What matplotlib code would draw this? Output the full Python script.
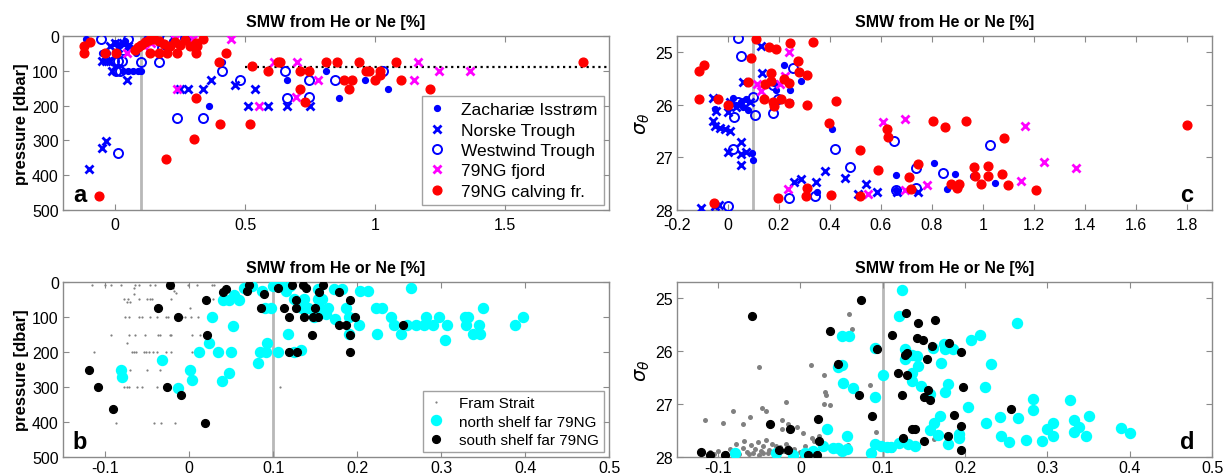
import numpy as np
import matplotlib
matplotlib.use("Agg")
import matplotlib.pyplot as plt

plt.rcParams["font.family"] = ["Liberation Sans", "DejaVu Sans"]

# ---- panel a: SMW vs pressure (x, dbar) ----
zach_a = [(-0.11, 8), (-0.05, 50), (-0.03, 50), (0.0, 20), (0.02, 25), (0.04, 15), (0.06, 35),
          (0.08, 50), (0.03, 100), (0.05, 100), (0.07, 100), (0.09, 100), (0.10, 100), (0.12, 8),
          (0.14, 10), (0.17, 20), (0.19, 30), (0.22, 15), (0.25, 25), (0.28, 10), (0.36, 200),
          (0.41, 75), (0.66, 127), (0.81, 100), (0.86, 178), (0.96, 127), (1.05, 152)]
norske_a = [(-0.10, 383), (-0.05, 322), (-0.035, 302), (-0.05, 72), (-0.035, 72), (-0.02, 72),
            (-0.01, 100), (-0.02, 30), (0.0, 20), (0.01, 35), (0.03, 20), (0.05, 30), (0.045, 126),
            (0.13, 10), (0.25, 152), (0.28, 152), (0.34, 152), (0.37, 126), (0.46, 142), (0.54, 152),
            (0.51, 200), (0.59, 200), (0.66, 200), (0.75, 200)]
westwind_a = [(-0.055, 8), (0.01, 335), (0.005, 100), (-0.005, 72), (0.01, 72), (0.025, 72),
              (0.02, 100), (0.05, 10), (0.10, 75), (0.17, 75), (0.20, 5), (0.27, 5), (0.237, 237),
              (0.34, 237), (0.41, 100), (0.48, 126), (0.655, 100), (0.66, 178), (0.745, 126),
              (0.745, 176), (0.845, 126), (1.03, 100), (0.18, 35), (0.03, 40)]
fjord_a = [(0.045, 50), (0.11, 28), (0.14, 20), (0.23, 8), (0.30, 8), (0.24, 152), (0.445, 10),
           (0.555, 200), (0.61, 75), (0.70, 75), (0.78, 127), (0.695, 176), (1.15, 127),
           (1.165, 75), (1.245, 100), (1.365, 100)]
calving_a = [(-0.12, 29), (-0.12, 50), (-0.095, 18), (-0.04, 50), (0.005, 50), (-0.06, 461),
             (0.075, 40), (0.09, 32), (0.10, 25), (0.115, 18), (0.13, 12), (0.15, 10), (0.17, 15),
             (0.19, 22), (0.21, 28), (0.23, 18), (0.25, 25), (0.27, 12), (0.29, 30), (0.31, 20),
             (0.34, 8), (0.135, 50), (0.17, 50), (0.20, 50), (0.24, 50), (0.31, 50), (0.315, 30),
             (0.31, 177), (0.305, 297), (0.195, 354), (0.40, 75), (0.425, 50), (0.405, 252),
             (0.52, 252), (0.525, 87), (0.59, 100), (0.625, 75), (0.635, 75), (0.71, 100),
             (0.745, 100), (0.71, 151), (0.73, 190), (0.81, 75), (0.855, 75), (0.88, 126),
             (0.91, 126), (0.90, 151), (0.94, 75), (0.965, 100), (0.975, 100), (1.0, 126),
             (1.02, 100), (1.02, 112), (1.08, 75), (1.10, 126), (1.21, 151), (1.80, 75)]

# ---- panel c: SMW vs sigma_theta ----
zach_c = [(-0.05, 26.08), (0.0, 26.05), (0.02, 25.88), (0.03, 26.0), (0.05, 25.95), (0.06, 26.05),
          (0.07, 25.9), (0.08, 26.1), (0.094, 26.92), (0.10, 27.05), (0.18, 25.6), (0.19, 25.72),
          (0.22, 25.25), (0.245, 25.72), (0.285, 25.55), (0.245, 25.95), (0.35, 27.66), (0.41, 26.47),
          (0.66, 27.33), (0.66, 27.62), (0.81, 27.1), (0.86, 27.6), (0.89, 27.32), (0.96, 27.36),
          (1.05, 27.48)]
norske_c = [(-0.105, 27.97), (-0.05, 27.92), (-0.035, 27.9), (-0.06, 25.88), (-0.045, 26.12),
            (-0.06, 26.32), (-0.05, 26.4), (-0.03, 26.45), (-0.01, 26.47), (0.01, 26.5), (0.0, 26.15),
            (0.0, 26.9), (0.01, 25.95), (0.03, 26.05), (0.05, 26.72), (0.05, 26.93), (0.05, 27.15),
            (0.07, 26.9), (0.06, 25.58), (0.085, 25.95), (0.13, 24.89), (0.135, 25.4), (0.26, 27.47),
            (0.285, 27.42), (0.345, 27.47), (0.38, 27.26), (0.46, 27.39), (0.51, 27.69), (0.54, 27.51),
            (0.585, 27.66), (0.665, 27.66), (0.745, 27.66)]
westwind_c = [(0.04, 24.74), (0.05, 25.08), (0.10, 25.85), (0.105, 26.2), (0.025, 26.23),
              (0.02, 26.85), (0.0, 27.92), (0.04, 25.95), (0.06, 25.98), (0.175, 25.63),
              (0.175, 26.16), (0.195, 25.89), (0.255, 25.31), (0.24, 27.78), (0.34, 27.73),
              (0.42, 26.84), (0.48, 27.18), (0.65, 26.7), (0.74, 27.21), (0.74, 27.59),
              (0.845, 27.3), (1.03, 26.77), (0.66, 27.62)]
fjord_c = [(0.24, 25.01), (0.115, 25.61), (0.13, 25.74), (0.17, 25.47), (0.205, 25.61),
           (0.225, 25.46), (0.235, 27.6), (0.55, 27.7), (0.61, 26.33), (0.695, 26.27),
           (0.695, 27.62), (0.78, 27.53), (1.165, 26.4), (1.15, 27.45), (1.24, 27.09), (1.365, 27.2)]
calving_c = [(-0.115, 25.89), (-0.115, 25.36), (-0.095, 25.25), (-0.04, 25.89), (-0.055, 27.87),
             (0.0, 26.0), (0.09, 25.11), (0.11, 24.76), (0.08, 25.58), (0.14, 25.89), (0.145, 25.61),
             (0.17, 25.55), (0.168, 25.4), (0.175, 25.96), (0.18, 26.03), (0.16, 24.9), (0.19, 24.95),
             (0.21, 25.89), (0.22, 25.52), (0.24, 25.6), (0.24, 25.98), (0.245, 24.84), (0.275, 25.17),
             (0.28, 25.38), (0.31, 25.44), (0.31, 26.01), (0.335, 24.81), (0.425, 25.93),
             (0.395, 26.35), (0.195, 27.78), (0.31, 27.58), (0.305, 27.73), (0.405, 27.72),
             (0.52, 26.86), (0.52, 27.73), (0.59, 27.24), (0.625, 26.47), (0.63, 26.61),
             (0.71, 27.37), (0.72, 27.6), (0.745, 27.12), (0.805, 26.31), (0.85, 26.43),
             (0.875, 27.5), (0.905, 27.5), (0.90, 27.58), (0.935, 26.31), (0.965, 27.18),
             (0.97, 27.35), (0.995, 27.5), (1.02, 27.17), (1.02, 27.35), (1.075, 27.32),
             (1.085, 26.63), (1.10, 27.53), (1.21, 27.62), (1.80, 26.39)]

# ---- panel b: shelf stations vs pressure ----
fram_b = [(-0.115, 8), (-0.100, 8), (-0.093, 8), (-0.081, 8), (-0.064, 8), (-0.060, 8), (-0.046, 8),
          (-0.041, 8), (-0.001, 8), (0.009, 8), (0.027, 8), (0.030, 8), (-0.066, 18), (-0.019, 18),
          (-0.018, 27), (-0.016, 30), (-0.066, 34), (-0.078, 48), (-0.073, 48), (-0.060, 48),
          (-0.050, 48), (-0.047, 48), (-0.044, 48), (-0.021, 48), (0.029, 48), (-0.074, 58),
          (-0.070, 58), (0.001, 74), (-0.076, 99), (-0.072, 99), (-0.060, 99), (-0.056, 99),
          (-0.046, 99), (-0.038, 99), (-0.027, 99), (-0.025, 99), (-0.008, 99), (-0.005, 99),
          (0.002, 99), (0.011, 99), (0.028, 99), (-0.093, 150), (-0.072, 150), (-0.064, 150),
          (-0.052, 150), (-0.037, 150), (-0.035, 150), (-0.023, 150), (-0.021, 150), (0.003, 150),
          (0.013, 150), (0.021, 150), (-0.074, 174), (-0.113, 201), (-0.068, 201), (-0.065, 201),
          (-0.063, 201), (-0.054, 201), (-0.051, 201), (-0.048, 201), (-0.043, 201), (-0.038, 201),
          (-0.027, 201), (-0.021, 201), (0.003, 201), (-0.070, 250), (-0.050, 250), (-0.035, 250),
          (-0.078, 301), (-0.074, 301), (-0.072, 301), (-0.062, 301), (-0.056, 301), (-0.038, 301),
          (0.108, 301), (-0.087, 403), (-0.042, 403), (-0.033, 403), (-0.017, 403)]
north_b = [(0.075, 10), (0.065, 18), (0.087, 26), (0.04, 50), (0.048, 50), (0.06, 50), (0.054, 36),
           (0.097, 73), (0.09, 73), (0.027, 99), (0.052, 125), (0.024, 174), (0.012, 201),
           (0.035, 201), (0.05, 201), (0.093, 174), (0.085, 201), (0.092, 201), (0.106, 201),
           (0.082, 230), (-0.032, 222), (-0.081, 250), (-0.080, 270), (0.001, 250), (0.004, 279),
           (0.047, 260), (0.039, 282), (-0.013, 304), (0.10, 10), (0.11, 8), (0.115, 25), (0.12, 10),
           (0.125, 49), (0.137, 49), (0.154, 49), (0.135, 73), (0.142, 73), (0.156, 73), (0.166, 73),
           (0.163, 92), (0.149, 100), (0.174, 106), (0.154, 21), (0.173, 19), (0.182, 19),
           (0.187, 73), (0.19, 100), (0.19, 149), (0.118, 149), (0.125, 200), (0.133, 193),
           (0.158, 49), (0.204, 26), (0.213, 26), (0.202, 123), (0.222, 73), (0.23, 73), (0.24, 100),
           (0.244, 123), (0.224, 149), (0.252, 149), (0.264, 16), (0.26, 123), (0.27, 123),
           (0.28, 123), (0.29, 123), (0.282, 100), (0.298, 100), (0.307, 123), (0.305, 167),
           (0.328, 100), (0.332, 100), (0.33, 123), (0.338, 149), (0.346, 149), (0.345, 123),
           (0.35, 75), (0.388, 123), (0.398, 100)]
south_b = [(-0.023, 8), (-0.037, 75), (-0.013, 99), (0.020, 50), (0.021, 150), (-0.119, 250),
           (-0.108, 301), (-0.091, 363), (-0.026, 301), (-0.009, 323), (0.019, 403), (0.041, 28),
           (0.044, 20), (0.071, 8), (0.069, 25), (0.089, 34), (0.086, 75), (0.106, 18), (0.122, 8),
           (0.113, 75), (0.119, 99), (0.127, 50), (0.127, 75), (0.136, 8), (0.139, 18), (0.137, 99),
           (0.147, 99), (0.153, 99), (0.150, 75), (0.155, 28), (0.16, 8), (0.146, 150), (0.119, 200),
           (0.128, 200), (0.178, 28), (0.187, 123), (0.178, 123), (0.192, 50), (0.197, 100),
           (0.192, 150), (0.192, 200), (0.255, 123)]

# ---- panel d: shelf stations vs sigma_theta ----
fram_d = [(-0.116, 27.3), (-0.094, 27.36), (-0.082, 27.14), (-0.07, 27.37), (-0.061, 27.25),
          (-0.042, 27.14), (-0.047, 27.07), (-0.017, 26.97), (-0.022, 27.3), (-0.023, 27.47),
          (-0.015, 27.38), (-0.004, 27.43), (0.003, 27.55), (0.014, 27.64), (0.017, 27.7),
          (0.023, 27.6), (0.029, 26.46), (0.03, 26.78), (0.031, 26.83), (0.029, 27.0), (0.036, 27.02),
          (0.058, 27.78), (0.059, 25.31), (0.063, 25.58), (-0.05, 26.3), (0.013, 26.26),
          (0.085, 26.64), (0.09, 26.86), (0.092, 27.52), (0.093, 27.74), (0.162, 27.66),
          (0.111, 27.87), (-0.11, 27.9), (-0.105, 27.95), (-0.10, 27.88), (-0.085, 27.85),
          (-0.08, 27.98), (-0.075, 27.95), (-0.07, 27.83), (-0.065, 27.9), (-0.06, 27.78),
          (-0.058, 27.92), (-0.055, 27.85), (-0.05, 27.97), (-0.048, 27.88), (-0.045, 27.8),
          (-0.04, 27.93), (-0.038, 27.86), (-0.035, 27.75), (-0.03, 27.9), (-0.028, 27.95),
          (-0.025, 27.82), (-0.02, 27.88), (-0.018, 27.76), (-0.012, 27.93), (-0.008, 27.85),
          (-0.005, 27.97), (0.0, 27.9), (0.005, 27.8), (0.01, 27.95), (-0.09, 27.92), (-0.078, 27.75),
          (-0.068, 27.7), (-0.052, 27.72), (-0.042, 27.68), (-0.03, 27.8), (-0.015, 27.82),
          (0.02, 27.88), (0.025, 27.75), (-0.062, 27.95), (-0.045, 27.92)]
north_d = [(0.123, 24.86), (0.12, 25.35), (0.127, 25.97), (0.127, 26.16), (0.136, 26.07),
           (0.141, 26.1), (0.143, 26.29), (0.136, 26.42), (0.136, 26.57), (0.146, 26.67),
           (0.157, 26.82), (0.161, 25.94), (0.171, 26.23), (0.174, 25.86), (0.176, 25.97),
           (0.185, 25.96), (0.179, 26.62), (0.175, 26.78), (0.17, 27.22), (0.162, 27.35),
           (0.157, 27.5), (0.167, 27.58), (0.179, 27.75), (0.193, 27.57), (0.193, 27.64),
           (0.204, 27.06), (0.207, 25.79), (0.218, 25.7), (0.224, 26.68), (0.226, 27.36),
           (0.231, 26.25), (0.242, 27.25), (0.244, 27.61), (0.253, 27.72), (0.264, 27.26),
           (0.263, 25.47), (0.274, 27.67), (0.283, 26.91), (0.283, 27.11), (0.293, 27.7),
           (0.30, 27.48), (0.307, 27.35), (0.307, 27.61), (0.328, 26.93), (0.332, 27.31),
           (0.332, 27.53), (0.338, 27.43), (0.35, 27.22), (0.347, 27.61), (0.39, 27.45),
           (0.40, 27.55), (-0.079, 27.92), (-0.03, 27.92), (-0.009, 27.97), (0.006, 27.92),
           (0.015, 27.89), (0.027, 27.79), (0.032, 27.47), (0.04, 27.83), (0.046, 27.83),
           (0.051, 27.89), (0.056, 27.85), (0.057, 27.6), (0.05, 26.26), (0.05, 25.71),
           (0.059, 25.71), (0.052, 26.6), (0.064, 26.7), (0.09, 25.94), (0.09, 26.87), (0.09, 27.75),
           (0.086, 27.92), (0.098, 27.79), (0.10, 26.45), (0.105, 27.81), (0.11, 27.81),
           (0.12, 27.74), (0.131, 27.75), (0.139, 27.8), (0.045, 26.31)]
south_d = [(-0.121, 27.9), (-0.11, 27.96), (-0.092, 27.97), (-0.059, 25.35), (-0.037, 27.38),
           (-0.013, 27.47), (-0.026, 27.87), (-0.015, 27.87), (0.009, 27.97), (0.021, 27.28),
           (0.022, 27.7), (0.02, 27.96), (0.036, 25.63), (0.045, 26.24), (0.074, 25.03),
           (0.071, 26.83), (0.087, 27.23), (0.093, 25.96), (0.111, 25.69), (0.119, 26.42),
           (0.123, 26.84), (0.124, 27.64), (0.128, 25.28), (0.129, 26.04), (0.127, 26.08),
           (0.129, 26.45), (0.136, 27.47), (0.139, 27.47), (0.143, 25.47), (0.141, 25.75),
           (0.149, 25.8), (0.154, 26.15), (0.155, 26.73), (0.157, 26.93), (0.15, 26.86),
           (0.15, 27.7), (0.16, 25.9), (0.164, 25.41), (0.18, 25.85), (0.179, 27.6), (0.187, 27.2),
           (0.195, 26.02), (0.195, 27.86), (0.197, 26.68), (0.195, 27.42), (0.256, 27.09)]

FRAME = "#8a8a8a"


def xy(pairs):
    arr = np.array(pairs, dtype=float)
    return arr[:, 0], arr[:, 1]


def style_axes(ax, xlim, ylim, xticks, yticks, xpad):
    ax.set_xlim(*xlim)
    ax.set_ylim(*ylim)
    ax.set_xticks(xticks)
    ax.set_xticklabels(["%g" % round(t, 2) for t in xticks])
    ax.set_yticks(yticks)
    ax.tick_params(direction="in", top=True, right=True, length=4, width=0.8,
                   color=FRAME, labelsize=11.5)
    ax.tick_params(axis="x", pad=xpad)
    ax.tick_params(axis="y", pad=3)
    for s in ax.spines.values():
        s.set_color(FRAME)
        s.set_linewidth(1.0)
    ax.set_title("SMW from He or Ne [%]", fontsize=11.5, fontweight="bold", pad=7)
    ax.axvline(0.1, color="#b8b8b8", lw=2, zorder=1)


fig = plt.figure(figsize=(12.26, 4.77), dpi=100)
ax_a = fig.add_axes([0.0514, 0.5577, 0.4454, 0.3648])
ax_b = fig.add_axes([0.0514, 0.0398, 0.4454, 0.3669])
ax_c = fig.add_axes([0.5522, 0.5577, 0.4364, 0.3648])
ax_d = fig.add_axes([0.5522, 0.0398, 0.4364, 0.3669])

blue = "#0000ff"
mag = "#ff00ff"
red = "#ff0000"
cyan = "#00ffff"


def plot_upper(ax, zach, norske, westwind, fjord, calving):
    x, y = xy(zach)
    ax.plot(x, y, "o", color=blue, ms=4.2, mec=blue, label="Zachariæ Isstrøm", zorder=3)
    x, y = xy(norske)
    ax.plot(x, y, "x", color=blue, ms=6, mew=2, label="Norske Trough", zorder=3)
    x, y = xy(westwind)
    ax.plot(x, y, "o", mfc="none", mec=blue, ms=6.5, mew=1.4, label="Westwind Trough", zorder=3)
    x, y = xy(fjord)
    ax.plot(x, y, "x", color=mag, ms=6, mew=2, label="79NG fjord", zorder=3)
    x, y = xy(calving)
    ax.plot(x, y, "o", color=red, mec=red, ms=6.3, label="79NG calving fr.", zorder=4)


def plot_lower(ax, fram, north, south, fram_ms):
    x, y = xy(fram)
    ax.plot(x, y, "o", color="#808080", mec="none", ms=fram_ms, label="Fram Strait", zorder=2)
    x, y = xy(north)
    ax.plot(x, y, "o", color=cyan, mec=cyan, ms=7.2, label="north shelf far 79NG", zorder=3)
    x, y = xy(south)
    ax.plot(x, y, "o", color="black", mec="black", ms=5.6, label="south shelf far 79NG", zorder=4)


# panel a
plot_upper(ax_a, zach_a, norske_a, westwind_a, fjord_a, calving_a)
ax_a.plot([0.5, 1.9], [90, 90], ":", color="black", lw=1.6, zorder=2)
style_axes(ax_a, (-0.2, 1.9), (500, 0), [0, 0.5, 1, 1.5], [0, 100, 200, 300, 400, 500], 5)
ax_a.set_ylabel("pressure [dbar]", fontsize=12, fontweight="bold", labelpad=2)
leg = ax_a.legend(loc="lower right", fontsize=12.5, frameon=True, fancybox=False,
                  edgecolor=FRAME, handlelength=1.0, handletextpad=0.9, borderpad=0.35,
                  labelspacing=0.3, borderaxespad=0.3, numpoints=1)
leg.get_frame().set_linewidth(1.0)
ax_a.text(0.018, 0.05, "a", transform=ax_a.transAxes, fontsize=17, fontweight="bold")

# panel c
plot_upper(ax_c, zach_c, norske_c, westwind_c, fjord_c, calving_c)
style_axes(ax_c, (-0.2, 1.9), (28, 24.7), np.round(np.arange(-0.2, 1.81, 0.2), 1),
           [25, 26, 27, 28], 5)
ax_c.set_ylabel(r"$\sigma_\theta$", fontsize=14, labelpad=2)
ax_c.text(0.94, 0.05, "c", transform=ax_c.transAxes, fontsize=17, fontweight="bold")

# panel b
plot_lower(ax_b, fram_b, north_b, south_b, fram_ms=1.6)
style_axes(ax_b, (-0.15, 0.5), (500, 0), np.round(np.arange(-0.1, 0.51, 0.1), 1),
           [0, 100, 200, 300, 400, 500], 2.5)
ax_b.set_ylabel("pressure [dbar]", fontsize=12, fontweight="bold", labelpad=2)
leg = ax_b.legend(loc="lower right", fontsize=11, frameon=True, fancybox=False,
                  edgecolor=FRAME, handlelength=1.0, handletextpad=1.0, borderpad=0.35,
                  labelspacing=0.3, borderaxespad=0.3, numpoints=1)
leg.get_frame().set_linewidth(1.0)
ax_b.text(0.018, 0.05, "b", transform=ax_b.transAxes, fontsize=17, fontweight="bold")

# panel d
plot_lower(ax_d, fram_d, north_d, south_d, fram_ms=3.6)
style_axes(ax_d, (-0.15, 0.5), (28, 24.7), np.round(np.arange(-0.1, 0.51, 0.1), 1),
           [25, 26, 27, 28], 2.5)
ax_d.set_ylabel(r"$\sigma_\theta$", fontsize=14, labelpad=2)
ax_d.text(0.94, 0.05, "d", transform=ax_d.transAxes, fontsize=17, fontweight="bold")

fig.savefig("out.png", dpi=100)
